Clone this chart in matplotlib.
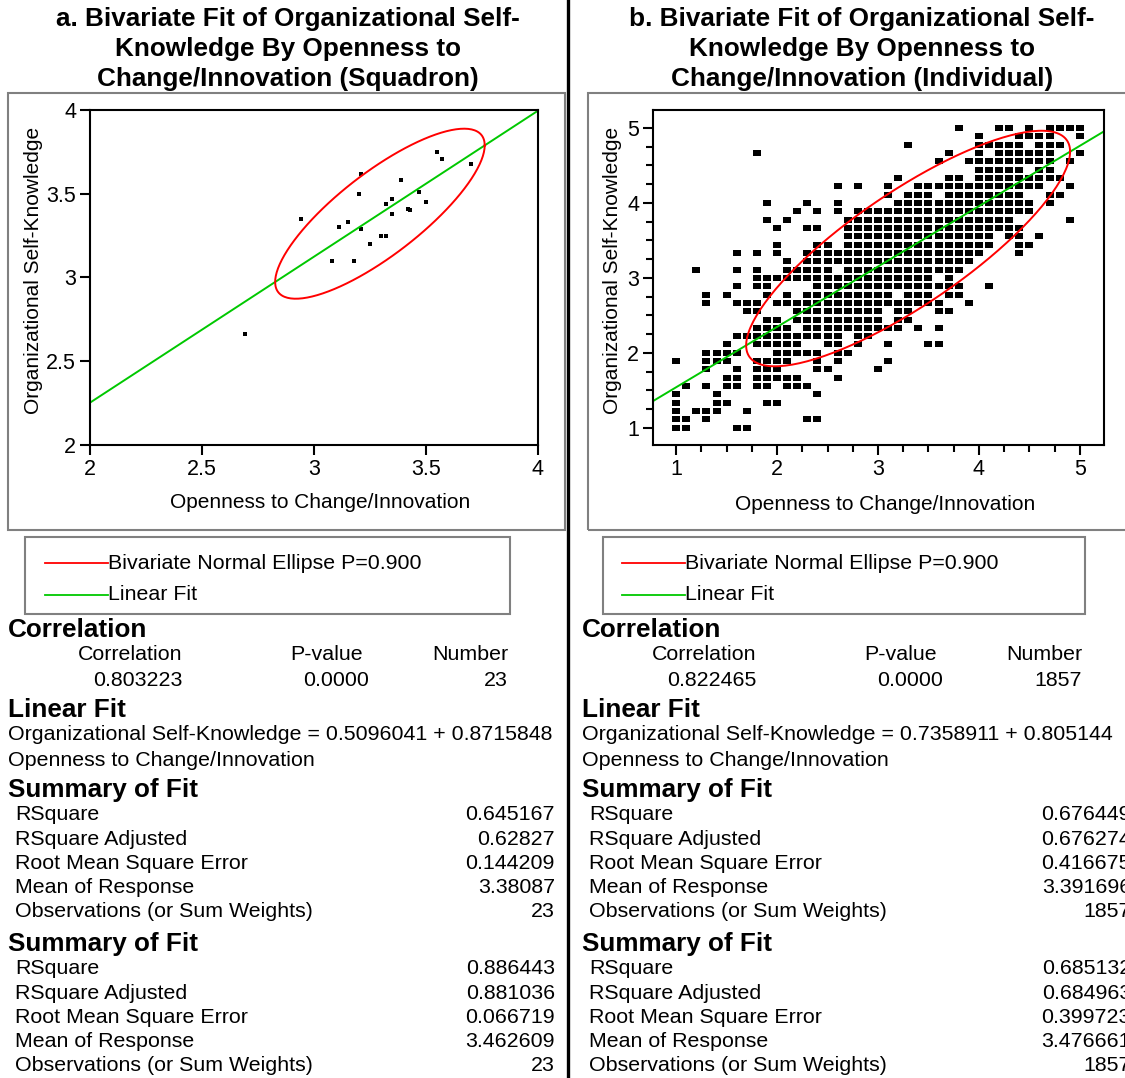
import numpy as np
import matplotlib
matplotlib.use("Agg")
import matplotlib.pyplot as plt
from matplotlib.lines import Line2D
from matplotlib.patches import Rectangle
from matplotlib.ticker import MultipleLocator

plt.rcParams['font.family'] = ['Liberation Sans', 'DejaVu Sans']

# --- painel a: esquadroes (23 pontos) ---
sq_open = [2.69, 2.94, 3.08, 3.11, 3.15, 3.18, 3.20, 3.21, 3.21, 3.25, 3.30, 3.32,
           3.32, 3.35, 3.35, 3.39, 3.42, 3.43, 3.47, 3.50, 3.55, 3.57, 3.70]
sq_osk = [2.66, 3.35, 3.10, 3.30, 3.33, 3.10, 3.50, 3.62, 3.29, 3.20, 3.25, 3.25,
          3.44, 3.47, 3.38, 3.58, 3.41, 3.40, 3.51, 3.45, 3.75, 3.71, 3.68]

# estatisticas do relatorio (a)
sq_r, sq_n = 0.803223, 23
sq_intercept, sq_slope = 0.5096041, 0.8715848
sq_mean_y, sq_rmse = 3.38087, 0.144209

# --- painel b: individuos, celulas ocupadas por nivel de y ---
ind_levels = [5.0, 4.889, 4.778, 4.667, 4.556, 4.444, 4.333, 4.222, 4.111, 4.0,
              3.889, 3.778, 3.667, 3.556, 3.444, 3.333, 3.222, 3.111, 3.0, 2.889,
              2.778, 2.667, 2.556, 2.444, 2.333, 2.222, 2.111, 2.0, 1.889, 1.778,
              1.667, 1.556, 1.444, 1.333, 1.222, 1.111, 1.0]
ind_rows = [
    [3.8, 4.2, 4.3, 4.5, 4.7, 4.8, 4.9, 5.0],
    [4.0, 4.4, 4.5, 4.6, 4.7, 5.0],
    [3.3, 4.0, 4.1, 4.2, 4.3, 4.4, 4.6, 4.7, 4.8],
    [1.8, 3.7, 4.0, 4.2, 4.3, 4.4, 4.5, 4.6, 4.7, 5.0],
    [3.6, 3.9, 4.0, 4.1, 4.2, 4.3, 4.4, 4.5, 4.6, 4.7, 4.9],
    [4.0, 4.1, 4.2, 4.3, 4.4, 4.6, 4.7],
    [3.2, 3.7, 3.8, 4.0, 4.1, 4.2, 4.3, 4.4, 4.5, 4.6, 4.7, 4.8],
    [2.6, 2.8, 3.1, 3.4, 3.5, 3.6, 3.7, 3.8, 3.9, 4.0, 4.1, 4.2, 4.3, 4.4, 4.5, 4.6, 4.9],
    [3.1, 3.3, 3.4, 3.5, 3.7, 3.8, 3.9, 4.0, 4.1, 4.2, 4.3, 4.4, 4.7, 4.8],
    [1.9, 2.3, 2.6, 3.2, 3.3, 3.4, 3.5, 3.6, 3.7, 3.8, 3.9, 4.0, 4.1, 4.2, 4.3, 4.4, 4.5, 4.7],
    [2.2, 2.4, 2.6, 2.8, 2.9, 3.0, 3.1, 3.2, 3.3, 3.4, 3.5, 3.6, 3.7, 3.8, 3.9, 4.0, 4.1,
     4.2, 4.3, 4.4, 4.5],
    [1.9, 2.1, 2.7, 2.8, 2.9, 3.0, 3.1, 3.2, 3.3, 3.4, 3.5, 3.6, 3.7, 3.8, 3.9, 4.0, 4.1,
     4.2, 4.3, 4.9],
    [2.0, 2.3, 2.4, 2.7, 2.8, 2.9, 3.0, 3.1, 3.2, 3.3, 3.4, 3.5, 3.6, 3.7, 3.8, 3.9, 4.0,
     4.1, 4.2, 4.3, 4.4],
    [2.7, 2.8, 2.9, 3.0, 3.1, 3.2, 3.3, 3.4, 3.5, 3.6, 3.7, 3.8, 3.9, 4.0, 4.1, 4.3, 4.4, 4.6],
    [2.0, 2.4, 2.5, 2.7, 2.8, 2.9, 3.0, 3.1, 3.2, 3.3, 3.4, 3.5, 3.6, 3.7, 3.8, 3.9, 4.0,
     4.1, 4.4, 4.5],
    [1.6, 1.8, 2.0, 2.3, 2.4, 2.5, 2.6, 2.7, 2.8, 2.9, 3.0, 3.1, 3.2, 3.3, 3.4, 3.5, 3.6,
     3.7, 3.8, 3.9, 4.0, 4.4],
    [2.1, 2.3, 2.4, 2.5, 2.6, 2.7, 2.8, 2.9, 3.0, 3.1, 3.2, 3.3, 3.4, 3.5, 3.6, 3.7, 3.8, 3.9],
    [1.2, 1.6, 1.8, 2.1, 2.2, 2.3, 2.4, 2.5, 2.7, 2.8, 2.9, 3.0, 3.1, 3.2, 3.3, 3.4, 3.5,
     3.6, 3.7, 3.8],
    [1.8, 1.9, 2.0, 2.1, 2.2, 2.3, 2.4, 2.5, 2.6, 2.7, 2.8, 2.9, 3.0, 3.1, 3.2, 3.3, 3.4,
     3.5, 3.7],
    [1.6, 1.8, 1.9, 2.4, 2.5, 2.6, 2.7, 2.8, 2.9, 3.0, 3.1, 3.2, 3.3, 3.4, 3.5, 3.6, 3.7,
     3.8, 4.1],
    [1.3, 1.5, 1.9, 2.1, 2.3, 2.4, 2.5, 2.6, 2.7, 2.8, 2.9, 3.0, 3.1, 3.3, 3.4, 3.5, 3.7, 3.8],
    [1.3, 1.6, 1.7, 1.8, 2.0, 2.1, 2.2, 2.3, 2.4, 2.5, 2.6, 2.7, 2.8, 2.9, 3.0, 3.1, 3.2,
     3.3, 3.4, 3.5, 3.6, 3.9],
    [1.7, 1.8, 2.2, 2.3, 2.4, 2.5, 2.6, 2.7, 2.8, 2.9, 3.0, 3.2, 3.3, 3.6, 3.7],
    [1.9, 2.0, 2.2, 2.3, 2.4, 2.5, 2.6, 2.7, 2.8, 2.9, 3.0, 3.2, 3.3],
    [1.8, 1.9, 2.0, 2.1, 2.3, 2.4, 2.5, 2.6, 2.7, 2.8, 2.9, 3.0, 3.1, 3.2, 3.4, 3.6],
    [1.6, 1.7, 1.8, 1.9, 2.0, 2.1, 2.2, 2.3, 2.4, 2.5, 2.6, 2.8, 2.9],
    [1.5, 1.8, 1.9, 2.0, 2.1, 2.2, 2.5, 2.6, 2.8, 3.1, 3.5, 3.6],
    [1.3, 1.4, 1.5, 1.6, 2.0, 2.1, 2.2, 2.3, 2.4, 2.6, 2.7],
    [1.0, 1.3, 1.4, 1.5, 1.8, 1.9, 2.0, 2.1, 2.4, 2.6, 3.1],
    [1.3, 1.6, 1.8, 1.9, 2.0, 2.4, 2.5, 3.0],
    [1.5, 1.6, 1.8, 1.9, 2.0, 2.1, 2.2, 2.6],
    [1.1, 1.3, 1.5, 1.6, 1.8, 1.9, 2.1, 2.2, 2.3],
    [1.0, 1.4, 2.4],
    [1.0, 1.4, 1.5, 1.9, 2.0],
    [1.0, 1.2, 1.3, 1.4, 1.7],
    [1.0, 1.1, 1.3, 2.3, 2.4],
    [1.0, 1.1, 1.6, 1.7],
]

# estatisticas do relatorio (b)
ind_r, ind_n = 0.822465, 1857
ind_intercept, ind_slope = 0.7358911, 0.805144
ind_mean_y, ind_rmse = 3.391696, 0.416675

# textos dos relatorios
fit_labels = ["RSquare", "RSquare Adjusted", "Root Mean Square Error",
              "Mean of Response", "Observations (or Sum Weights)"]
sq_fit1 = ["0.645167", "0.62827", "0.144209", "3.38087", "23"]
sq_fit2 = ["0.886443", "0.881036", "0.066719", "3.462609", "23"]
ind_fit1 = ["0.676449", "0.676274", "0.416675", "3.391696", "1857"]
ind_fit2 = ["0.685132", "0.684963", "0.399723", "3.476661", "1857"]

W, H = 1125, 1078
RED = '#ff0000'
GREEN = '#00c800'
FS = 15.4      # texto normal
FB = 18.8      # negrito
# quadrado um pouco mais largo que alto, como no original
RECT = [(-1, -0.84), (1, -0.84), (1, 0.84), (-1, 0.84), (-1, -0.84)]


def fx(x):
    return x / W


def fy(y):
    return 1 - y / H


def ellipse(r, n, intercept, slope, mean_y, rmse, p=0.9):
    # elipse normal bivariada a partir das estatisticas do relatorio
    sy = rmse / np.sqrt(1 - r ** 2) / np.sqrt((n - 1) / (n - 2))
    sx = r * sy / slope
    mx = (mean_y - intercept) / slope
    c = np.sqrt(-2 * np.log(1 - p))
    t = np.linspace(0, 2 * np.pi, 200)
    ex = mx + c * sx * np.cos(t)
    ey = mean_y + c * sy * (r * np.cos(t) + np.sqrt(1 - r ** 2) * np.sin(t))
    return ex, ey


fig = plt.figure(figsize=(11.25, 10.78), dpi=100)

# caixas cinza em volta dos graficos e legendas
for x0, x1, y0, y1 in [(8, 565, 93, 530), (588, 1130, 93, 530),
                       (25, 510, 537, 614), (603, 1085, 537, 614)]:
    fig.add_artist(Rectangle((fx(x0), fy(y1)), (x1 - x0) / W, (y1 - y0) / H,
                             transform=fig.transFigure, fill=False,
                             edgecolor='#808080', lw=1.5))
fig.add_artist(Line2D([fx(568), fx(568)], [0, 1], color='black', lw=2.4))

# titulos
titles = [["a. Bivariate Fit of Organizational Self-", "Knowledge By Openness to",
           "Change/Innovation (Squadron)"],
          ["b. Bivariate Fit of Organizational Self-", "Knowledge By Openness to",
           "Change/Innovation (Individual)"]]
for cx, lines in zip([288, 862], titles):
    for k, s in enumerate(lines):
        fig.text(fx(cx), fy(19 + 30 * k), s, ha='center', va='center',
                 fontsize=FB, fontweight='bold')

# grafico a
ax1 = fig.add_axes([fx(90), fy(445), 448 / W, 335 / H])
ax1.plot(sq_open, sq_osk, 's', color='black', ms=2.8, mew=0)
xl = np.array([2, 4])
ax1.plot(xl, sq_intercept + sq_slope * xl, color=GREEN, lw=1.4)
ex, ey = ellipse(sq_r, sq_n, sq_intercept, sq_slope, sq_mean_y, sq_rmse)
ax1.plot(ex, ey, color=RED, lw=1.4)
ax1.set_xlim(2, 4)
ax1.set_ylim(2, 4)
ax1.set_xticks([2, 2.5, 3, 3.5, 4], ["2", "2.5", "3", "3.5", "4"])
ax1.set_yticks([2, 2.5, 3, 3.5, 4], ["2", "2.5", "3", "3.5", "4"])

# grafico b
ax2 = fig.add_axes([fx(653), fy(445), 451 / W, 335 / H])
for yv, xs in zip(ind_levels, ind_rows):
    ax2.plot(xs, [yv] * len(xs), marker=RECT, linestyle='none', color='black',
             ms=5.4, mew=0)
xl = np.array([0.77, 5.24])
ax2.plot(xl, ind_intercept + ind_slope * xl, color=GREEN, lw=1.4)
ex, ey = ellipse(ind_r, ind_n, ind_intercept, ind_slope, ind_mean_y, ind_rmse)
ax2.plot(ex, ey, color=RED, lw=1.4)
ax2.set_xlim(0.77, 5.24)
ax2.set_ylim(0.77, 5.24)
ax2.set_xticks([1, 2, 3, 4, 5], ["1", "2", "3", "4", "5"])
ax2.set_yticks([1, 2, 3, 4, 5], ["1", "2", "3", "4", "5"])
ax2.xaxis.set_minor_locator(MultipleLocator(0.25))
ax2.yaxis.set_minor_locator(MultipleLocator(0.25))
ax2.tick_params(which='minor', direction='out', length=5, width=1.5)

for ax in (ax1, ax2):
    for sp in ax.spines.values():
        sp.set_linewidth(1.5)
    ax.tick_params(which='major', direction='out', length=7, width=1.5,
                   labelsize=15.5, pad=3)

# rotulos dos eixos
for cx, cy in [(320, 503), (885, 505)]:
    fig.text(fx(cx), fy(cy), "Openness to Change/Innovation", ha='center',
             va='center', fontsize=15)
for cx in [34, 613]:
    fig.text(fx(cx), fy(270), "Organizational Self-Knowledge", ha='center',
             va='center', rotation=90, fontsize=15)

# legendas
for x0 in [45, 622]:
    for cy, col, s in [(563, RED, "Bivariate Normal Ellipse P=0.900"),
                       (595, GREEN, "Linear Fit")]:
        fig.add_artist(Line2D([fx(x0), fx(x0 + 63)], [fy(cy), fy(cy)],
                              color=col, lw=1.3))
        fig.text(fx(x0 + 63), fy(cy), s, ha='left', va='center', fontsize=FS)

# relatorios
panels = [
    (0, "0.803223", "23", "0.5096041 + 0.8715848", sq_fit1, sq_fit2, 555),
    (574, "0.822465", "1857", "0.7358911 + 0.805144", ind_fit1, ind_fit2, 1131),
]
for dx, corr, num, eq, fit1, fit2, vx in panels:
    fig.text(fx(8 + dx), fy(630), "Correlation", fontsize=FB, fontweight='bold',
             va='center')
    fig.text(fx(130 + dx), fy(655), "Correlation", fontsize=FS, va='center',
             ha='center')
    fig.text(fx(327 + dx), fy(655), "P-value", fontsize=FS, va='center',
             ha='center')
    fig.text(fx(508 + dx), fy(655), "Number", fontsize=FS, va='center',
             ha='right')
    fig.text(fx(182 + dx), fy(681), corr, fontsize=FS, va='center', ha='right')
    fig.text(fx(369 + dx), fy(681), "0.0000", fontsize=FS, va='center',
             ha='right')
    fig.text(fx(508 + dx), fy(681), num, fontsize=FS, va='center', ha='right')
    fig.text(fx(8 + dx), fy(710), "Linear Fit", fontsize=FB, fontweight='bold',
             va='center')
    fig.text(fx(8 + dx), fy(735), "Organizational Self-Knowledge = " + eq,
             fontsize=FS, va='center')
    fig.text(fx(8 + dx), fy(761), "Openness to Change/Innovation",
             fontsize=FS, va='center')
    for y0, vals in [(790, fit1), (944, fit2)]:
        fig.text(fx(8 + dx), fy(y0), "Summary of Fit", fontsize=FB,
                 fontweight='bold', va='center')
        for k, (lab, v) in enumerate(zip(fit_labels, vals)):
            yy = y0 + 25 + 24.2 * k
            fig.text(fx(15 + dx), fy(yy), lab, fontsize=FS, va='center')
            fig.text(fx(vx), fy(yy), v, fontsize=FS, va='center', ha='right')

fig.savefig("out.png", dpi=100)
